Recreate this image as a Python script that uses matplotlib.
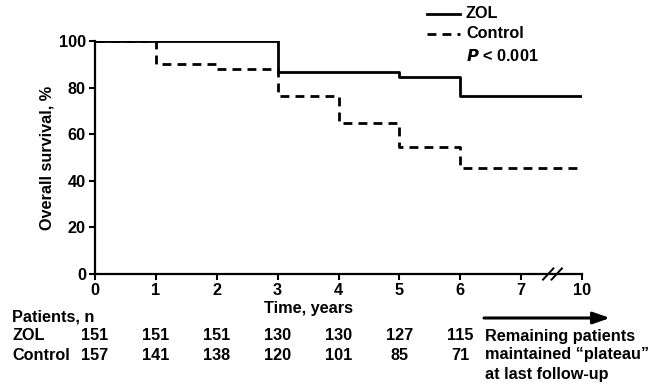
import matplotlib
matplotlib.use("Agg")
import matplotlib.pyplot as plt
import matplotlib.transforms as mtransforms

plt.rcParams['font.family'] = ['Liberation Sans', 'DejaVu Sans']
plt.rcParams['font.weight'] = 'bold'
FS = 11.7

# time positions on axis (label "10" sits at position 8, after the break)
xpos = [0, 1, 2, 3, 4, 5, 6, 8]
xticklabels = ['0', '1', '2', '3', '4', '5', '6', '7', '10']
zol_surv = [100, 100, 100, 86.8, 86.8, 84.4, 76.4, 76.4]
ctrl_surv = [100, 90.1, 88.0, 76.4, 64.7, 54.6, 45.4, 45.4]
ctrl_end = 7.95

risk_pos = [0, 1, 2, 3, 4, 5, 6]
zol_n = [151, 151, 151, 130, 130, 127, 115]
ctrl_n = [157, 141, 138, 120, 101, 85, 71]

fig = plt.figure(figsize=(6.62, 3.85), dpi=100)
ax = fig.add_axes([95/662, 1-274/385, (582-95)/662, (274-41)/385])

lw = 2.0
dash = (0, (3.2, 2.2))
ax.step(xpos[:-1] + [ctrl_end], ctrl_surv, where='post', color='black', lw=lw, linestyle=dash)
ax.step(xpos, zol_surv, where='post', color='black', lw=lw)

ax.set_xlim(0, 8)
ax.set_ylim(0, 100)
ax.set_xticks(range(9))
ax.set_xticklabels(xticklabels)
ax.set_yticks([0, 20, 40, 60, 80, 100])
for s in ['top', 'right']:
    ax.spines[s].set_visible(False)
for s in ['left', 'bottom']:
    ax.spines[s].set_linewidth(1.6)
ax.tick_params(direction='out', length=4, width=1.5, labelsize=FS, pad=2.5)
for lab in ax.get_xticklabels() + ax.get_yticklabels():
    lab.set_fontweight('bold')
ax.set_ylabel('Overall survival, %', fontsize=FS, fontweight='bold', labelpad=3)

# axis break marks
for dx in (-0.07, 0.07):
    ax.plot([7.43 + dx, 7.6 + dx], [-2.4, 2.4], color='black', lw=1.4, clip_on=False)

# legend
tr = fig.transFigure
fig.lines.append(plt.Line2D([427/662, 460/662], [1-14/385]*2, color='black', lw=lw, transform=tr))
fig.lines.append(plt.Line2D([427/662, 460/662], [1-34/385]*2, color='black', lw=lw,
                            linestyle=dash, transform=tr))
fig.text(466/662, 1-14/385, 'ZOL', va='center', fontsize=FS, fontweight='bold')
fig.text(466/662, 1-34/385, 'Control', va='center', fontsize=FS, fontweight='bold')
fig.text(466/662, 1-56/385, r'$\bfit{P}$ < 0.001', va='center', fontsize=FS, fontweight='bold')

fig.text(308/662, 1-308/385, 'Time, years', ha='center', va='center', fontsize=FS, fontweight='bold')

# numbers at risk
blend = mtransforms.blended_transform_factory(ax.transData, fig.transFigure)
fig.text(12/662, 1-317/385, 'Patients, n', va='center', fontsize=FS, fontweight='bold')
fig.text(12/662, 1-336/385, 'ZOL', va='center', fontsize=FS, fontweight='bold')
fig.text(12/662, 1-355/385, 'Control', va='center', fontsize=FS, fontweight='bold')
for x, a, b in zip(risk_pos, zol_n, ctrl_n):
    ax.text(x, 1-336/385, str(a), transform=blend, ha='center', va='center',
            fontsize=FS, fontweight='bold', clip_on=False)
    ax.text(x, 1-355/385, str(b), transform=blend, ha='center', va='center',
            fontsize=FS, fontweight='bold', clip_on=False)

ax.annotate('', xy=(610/662, 1-318/385), xytext=(484/662, 1-318/385),
            xycoords='figure fraction', textcoords='figure fraction',
            arrowprops=dict(arrowstyle='-|>,head_length=1.0,head_width=0.35',
                            color='black', lw=2.2, shrinkA=0, shrinkB=0))
fig.text(485/662, 1-336/385, 'Remaining patients', va='center', fontsize=FS, fontweight='bold')
fig.text(485/662, 1-355/385, 'maintained \u201cplateau\u201d', va='center', fontsize=FS, fontweight='bold')
fig.text(485/662, 1-374/385, 'at last follow-up', va='center', fontsize=FS, fontweight='bold')

fig.savefig('out.png', dpi=100)
